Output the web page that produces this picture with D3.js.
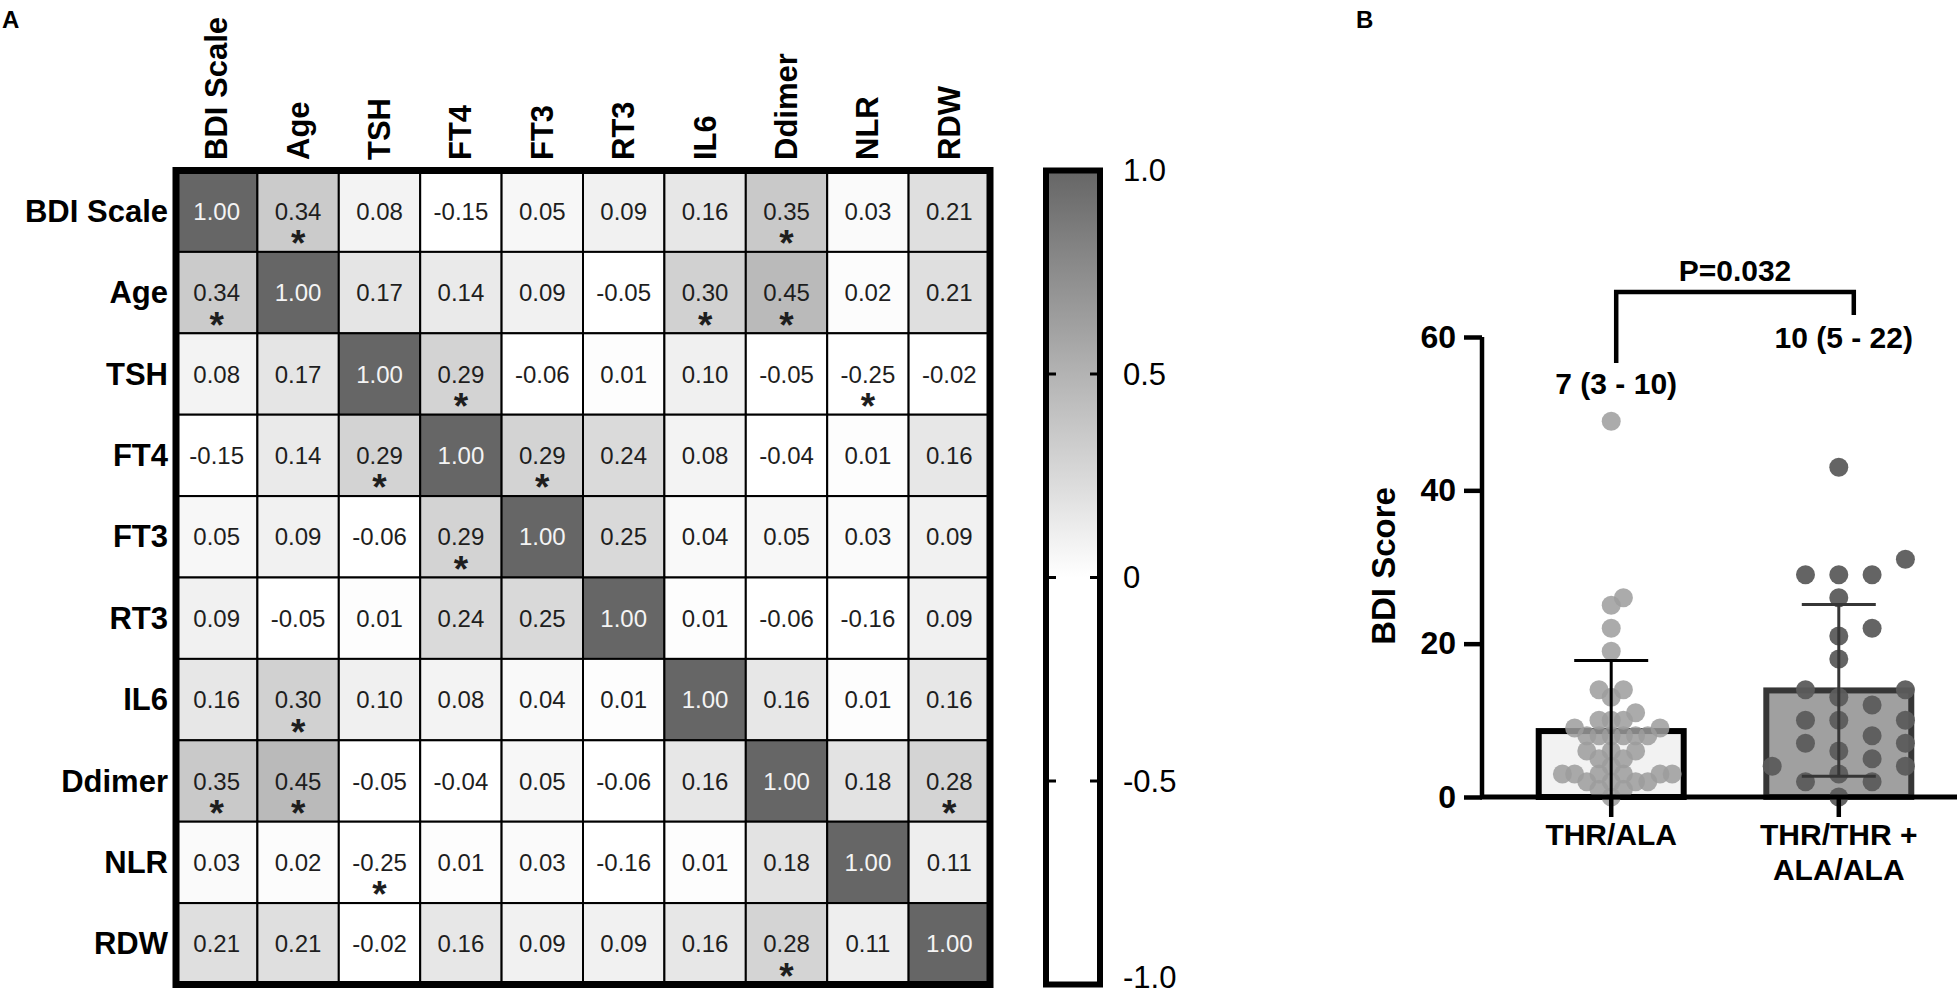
<!DOCTYPE html>
<html>
<head>
<meta charset="utf-8">
<script src="https://cdn.jsdelivr.net/npm/d3@7"></script>
<style>
  html, body { margin: 0; padding: 0; background: #fff; }
  svg { display: block; font-family: "Liberation Sans", Arial, Helvetica, sans-serif; }
</style>
</head>
<body>
<svg id="chart" width="1957" height="997"></svg>
<script>
// ---------------- DATA ----------------
const variables = ["BDI Scale", "Age", "TSH", "FT4", "FT3", "RT3", "IL6", "Ddimer", "NLR", "RDW"];

const corrValues = [
  [1.00, 0.34, 0.08, -0.15, 0.05, 0.09, 0.16, 0.35, 0.03, 0.21],
  [0.34, 1.00, 0.17, 0.14, 0.09, -0.05, 0.30, 0.45, 0.02, 0.21],
  [0.08, 0.17, 1.00, 0.29, -0.06, 0.01, 0.10, -0.05, -0.25, -0.02],
  [-0.15, 0.14, 0.29, 1.00, 0.29, 0.24, 0.08, -0.04, 0.01, 0.16],
  [0.05, 0.09, -0.06, 0.29, 1.00, 0.25, 0.04, 0.05, 0.03, 0.09],
  [0.09, -0.05, 0.01, 0.24, 0.25, 1.00, 0.01, -0.06, -0.16, 0.09],
  [0.16, 0.30, 0.10, 0.08, 0.04, 0.01, 1.00, 0.16, 0.01, 0.16],
  [0.35, 0.45, -0.05, -0.04, 0.05, -0.06, 0.16, 1.00, 0.18, 0.28],
  [0.03, 0.02, -0.25, 0.01, 0.03, -0.16, 0.01, 0.18, 1.00, 0.11],
  [0.21, 0.21, -0.02, 0.16, 0.09, 0.09, 0.16, 0.28, 0.11, 1.00]
];

const corrSignificant = [
  [0, 1, 0, 0, 0, 0, 0, 1, 0, 0],
  [1, 0, 0, 0, 0, 0, 1, 1, 0, 0],
  [0, 0, 0, 1, 0, 0, 0, 0, 1, 0],
  [0, 0, 1, 0, 1, 0, 0, 0, 0, 0],
  [0, 0, 0, 1, 0, 0, 0, 0, 0, 0],
  [0, 0, 0, 0, 0, 0, 0, 0, 0, 0],
  [0, 1, 0, 0, 0, 0, 0, 0, 0, 0],
  [1, 1, 0, 0, 0, 0, 0, 0, 0, 1],
  [0, 0, 1, 0, 0, 0, 0, 0, 0, 0],
  [0, 0, 0, 0, 0, 0, 0, 1, 0, 0]
];

const colorbarTicks = [1.0, 0.5, 0, -0.5, -1.0];
const colorbarTickLabels = ["1.0", "0.5", "0", "-0.5", "-1.0"];

const groups = ["THR/ALA", "THR/THR + ALA/ALA"];
const groupLabelLines = [["THR/ALA"], ["THR/THR +", "ALA/ALA"]];
const groupMeans = [8.6, 13.9];
const groupSD = [9.2, 11.2];
const scoresThrAla = [49, 26, 25, 22, 19, 14, 14, 13, 11, 10, 10, 10, 9, 9,
  8, 8, 8, 8, 8, 8, 6, 6, 6, 5, 5, 4, 3, 3, 3, 3, 3, 3, 2, 2, 2, 2, 1, 1, 0];
const scoresThrThrAlaAla = [43, 31, 29, 29, 29, 26, 22, 21, 18, 14, 14, 13, 12,
  10, 10, 10, 8, 7, 7, 6, 5, 4, 4, 3, 2, 2, 0];
const medianLabels = ["7 (3 - 10)", "10 (5 - 22)"];
const pValueLabel = "P=0.032";
const yTicks = [0, 20, 40, 60];
const yAxisTitle = "BDI Score";

// ---------------- CHART ----------------
const svg = d3.select("#chart");
const FONT_BOLD = 700;

// Panel letters
svg.append("text").attr("x", 2).attr("y", 28).attr("font-size", 24).attr("font-weight", FONT_BOLD).text("A");
svg.append("text").attr("x", 1356).attr("y", 28).attr("font-size", 24).attr("font-weight", FONT_BOLD).text("B");

// ===== Panel A: heatmap =====
const hx = d3.scaleBand().domain(variables).range([176, 990]);
const hy = d3.scaleBand().domain(variables).range([170.5, 984.5]);
const color = d3.scaleLinear().domain([-1, 0, 1]).range(["#ffffff", "#ffffff", "#666666"]).clamp(true);

const cells = [];
corrValues.forEach((row, i) => row.forEach((v, j) => cells.push({ r: variables[i], c: variables[j], v, sig: corrSignificant[i][j], diag: i === j })));

const gH = svg.append("g");
gH.selectAll("rect.cell").data(cells).join("rect")
  .attr("class", "cell")
  .attr("x", d => hx(d.c)).attr("y", d => hy(d.r))
  .attr("width", hx.bandwidth()).attr("height", hy.bandwidth())
  .attr("fill", d => color(d.v))
  .attr("stroke", "#000").attr("stroke-width", 2);

gH.selectAll("text.val").data(cells).join("text")
  .attr("class", "val")
  .attr("x", d => hx(d.c) + hx.bandwidth() / 2)
  .attr("y", d => hy(d.r) + hy.bandwidth() / 2)
  .attr("text-anchor", "middle").attr("dominant-baseline", "central")
  .attr("font-size", 24)
  .attr("fill", d => d.diag ? "#f4f4f4" : "#1e1e1e")
  .text(d => d.v.toFixed(2));

gH.selectAll("text.sig").data(cells.filter(d => d.sig)).join("text")
  .attr("class", "sig")
  .attr("x", d => hx(d.c) + hx.bandwidth() / 2)
  .attr("y", d => hy(d.r) + hy.bandwidth() / 2 + 45)
  .attr("text-anchor", "middle")
  .attr("font-size", 37).attr("font-weight", FONT_BOLD)
  .attr("fill", "#1e1e1e")
  .text("*");

// outer border
gH.append("rect")
  .attr("x", hx.range()[0]).attr("y", hy.range()[0])
  .attr("width", hx.range()[1] - hx.range()[0]).attr("height", hy.range()[1] - hy.range()[0])
  .attr("fill", "none").attr("stroke", "#000").attr("stroke-width", 7);

// row labels
gH.selectAll("text.rowlab").data(variables).join("text")
  .attr("class", "rowlab")
  .attr("x", 168).attr("y", d => hy(d) + hy.bandwidth() / 2)
  .attr("text-anchor", "end").attr("dominant-baseline", "central")
  .attr("font-size", 31).attr("font-weight", FONT_BOLD)
  .text(d => d);

// column labels
gH.selectAll("text.collab").data(variables).join("text")
  .attr("class", "collab")
  .attr("transform", d => `translate(${hx(d) + hx.bandwidth() / 2},160) rotate(-90)`)
  .attr("text-anchor", "start").attr("dominant-baseline", "central")
  .attr("font-size", 31).attr("font-weight", FONT_BOLD)
  .text(d => d);

// ===== Colorbar =====
const cbX = 1046, cbW = 54;
const cbY = d3.scaleLinear().domain([-1, 1]).range([hy.range()[1], hy.range()[0]]);
const defs = svg.append("defs");
const grad = defs.append("linearGradient").attr("id", "cbgrad")
  .attr("x1", 0).attr("y1", 1).attr("x2", 0).attr("y2", 0);
d3.range(0, 1.0001, 0.05).forEach(t => {
  const v = -1 + 2 * t;
  grad.append("stop").attr("offset", t).attr("stop-color", color(v));
});
svg.append("rect")
  .attr("x", cbX).attr("y", cbY(1)).attr("width", cbW).attr("height", cbY(-1) - cbY(1))
  .attr("fill", "url(#cbgrad)").attr("stroke", "#000").attr("stroke-width", 6);
const cbInner = colorbarTicks.filter(t => Math.abs(t) < 1);
svg.selectAll("line.cbtickL").data(cbInner).join("line")
  .attr("x1", cbX).attr("x2", cbX + 10).attr("y1", d => cbY(d)).attr("y2", d => cbY(d))
  .attr("stroke", "#000").attr("stroke-width", 3);
svg.selectAll("line.cbtickR").data(cbInner).join("line")
  .attr("x1", cbX + cbW - 10).attr("x2", cbX + cbW).attr("y1", d => cbY(d)).attr("y2", d => cbY(d))
  .attr("stroke", "#000").attr("stroke-width", 3);
svg.selectAll("text.cblab").data(colorbarTicks).join("text")
  .attr("class", "cblab")
  .attr("x", 1123).attr("y", d => Math.min(cbY(d), 977))
  .attr("dominant-baseline", "central")
  .attr("font-size", 31)
  .text((d, i) => colorbarTickLabels[i]);

// ===== Panel B =====
const axisX = 1482;
const yS = d3.scaleLinear().domain([0, 60]).range([797, 337]);
const xB = d3.scaleBand().domain(groups).range([1480, 1970]).paddingInner(0.363).paddingOuter(0.258);
const cx = g => xB(g) + xB.bandwidth() / 2;

const gB = svg.append("g");

// bars
const barFill = ["#f2f2f2", "#a0a0a0"];
const barStroke = ["#000000", "#363636"];
const dotFill = ["#9c9c9c", "#5c5c5c"];
gB.selectAll("rect.bar").data(groups).join("rect")
  .attr("class", "bar")
  .attr("x", d => xB(d)).attr("width", xB.bandwidth())
  .attr("y", (d, i) => yS(groupMeans[i])).attr("height", (d, i) => yS(0) - yS(groupMeans[i]))
  .attr("fill", (d, i) => barFill[i]).attr("stroke", (d, i) => barStroke[i]).attr("stroke-width", 6);

// beeswarm placement
function swarm(values, step, minDist) {
  const sorted = values.map((v, k) => ({ v, k })).sort((a, b) => a.v - b.v);
  const placed = [];
  sorted.forEach(p => {
    const py = yS(p.v);
    for (let n = 0; n < 200; n++) {
      const off = n === 0 ? 0 : (n % 2 ? 1 : -1) * Math.ceil(n / 2) * step;
      const ok = placed.every(q => Math.hypot(q.off - off, q.py - py) >= minDist);
      if (ok) { placed.push({ v: p.v, off, py }); break; }
    }
  });
  return placed;
}
const allScores = [scoresThrAla, scoresThrThrAlaAla];
const swarmParams = [[12.2, 12], [33.3, 20]];
groups.forEach((g, i) => {
  const pts = swarm(allScores[i], swarmParams[i][0], swarmParams[i][1]);
  gB.append("g").selectAll("circle").data(pts).join("circle")
    .attr("cx", d => cx(g) + d.off).attr("cy", d => d.py).attr("r", 9.5)
    .attr("fill", dotFill[i]).attr("fill-opacity", i === 0 ? 0.85 : 0.95);
});

// error bars
groups.forEach((g, i) => {
  const top = groupMeans[i] + groupSD[i];
  const bot = Math.max(0, groupMeans[i] - groupSD[i]);
  const eg = gB.append("g").attr("stroke", barStroke[i]).attr("stroke-width", 3);
  eg.append("line").attr("x1", cx(g)).attr("x2", cx(g)).attr("y1", yS(top)).attr("y2", yS(bot));
  eg.append("line").attr("x1", cx(g) - 37).attr("x2", cx(g) + 37).attr("y1", yS(top)).attr("y2", yS(top));
  if (groupMeans[i] - groupSD[i] > 0) {
    eg.append("line").attr("x1", cx(g) - 37).attr("x2", cx(g) + 37).attr("y1", yS(bot)).attr("y2", yS(bot));
  }
});

// y axis
const yAxis = d3.axisLeft(yS).tickValues(yTicks).tickSize(18).tickPadding(8).tickFormat(d3.format("d"));
const yg = gB.append("g").attr("transform", `translate(${axisX},0)`).call(yAxis);
yg.select(".domain").attr("stroke", "#000").attr("stroke-width", 4.5).attr("d", `M0,${yS(60)}V${yS(0)}`);
yg.selectAll(".tick line").attr("stroke", "#000").attr("stroke-width", 4.5);
yg.selectAll(".tick text").attr("font-size", 32).attr("font-weight", FONT_BOLD)
  .attr("font-family", "Liberation Sans, Arial, sans-serif").attr("fill", "#000");

// x axis
const xAxis = d3.axisBottom(xB).tickSize(20).tickFormat("");
const xg = gB.append("g").attr("transform", `translate(0,${yS(0)})`).call(xAxis);
xg.select(".domain").attr("stroke", "#000").attr("stroke-width", 5).attr("d", `M${axisX - 2},0H1957`);
xg.selectAll(".tick line").attr("stroke", "#000").attr("stroke-width", 4.5);
xg.selectAll(".tick text").remove();

// x labels (multi-line labels as tspans in one text)
groups.forEach((g, i) => {
  const t = gB.append("text").attr("x", cx(g)).attr("y", 845)
    .attr("text-anchor", "middle").attr("font-size", 30).attr("font-weight", FONT_BOLD);
  groupLabelLines[i].forEach((line, k) => {
    t.append("tspan").attr("x", cx(g)).attr("dy", k === 0 ? 0 : 35).text(line);
  });
});

// y title
gB.append("text")
  .attr("transform", `translate(1395,566) rotate(-90)`)
  .attr("text-anchor", "middle")
  .attr("font-size", 33).attr("font-weight", FONT_BOLD)
  .text(yAxisTitle);

// median labels
const medianY = [383, 337];
groups.forEach((g, i) => {
  gB.append("text").attr("x", cx(g) + 5).attr("y", medianY[i])
    .attr("text-anchor", "middle").attr("dominant-baseline", "central")
    .attr("font-size", 30).attr("font-weight", FONT_BOLD)
    .text(medianLabels[i]);
});

// significance bracket
const bx1 = cx(groups[0]) + 5, bx2 = cx(groups[1]) + 15;
gB.append("path")
  .attr("d", `M${bx1},363V292H${bx2}V315`)
  .attr("fill", "none").attr("stroke", "#000").attr("stroke-width", 4.5);
gB.append("text").attr("x", (bx1 + bx2) / 2).attr("y", 270)
  .attr("text-anchor", "middle").attr("dominant-baseline", "central")
  .attr("font-size", 30).attr("font-weight", FONT_BOLD)
  .text(pValueLabel);
</script>
</body>
</html>
